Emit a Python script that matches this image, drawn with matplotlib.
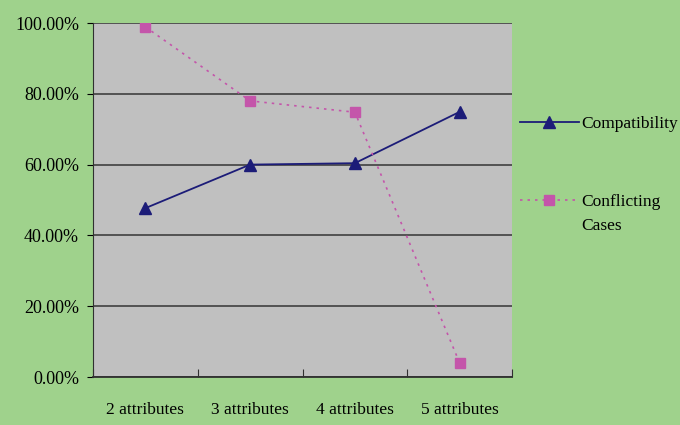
import numpy as np
import matplotlib.pyplot as plt
from matplotlib.ticker import FuncFormatter

categories = ["2 attributes", "3 attributes", "4 attributes", "5 attributes"]
compatibility = [47.7, 60.0, 60.4, 74.9]
conflicting = [98.9, 78.0, 74.8, 4.0]

plt.rcParams['font.family'] = ['Liberation Serif', 'DejaVu Serif']

fig = plt.figure(figsize=(6.8, 4.25), dpi=100, facecolor='#9fd28c')
ax = fig.add_axes([93/680, 48/425, 419/680, 354/425])
ax.set_facecolor('#c0c0c0')

x = np.arange(len(categories))
ax.plot(x, compatibility, color='#1c1c78', lw=1.3, marker='^', ms=8,
        label="Compatibility")
ax.plot(x, conflicting, color='#c455aa', lw=1.2, ls=(0, (1.5, 3)), marker='s',
        ms=7, label="Conflicting")

ax.set_xlim(-0.5, 3.5)
ax.set_ylim(0, 100)
ax.set_yticks(np.arange(0, 101, 20))
ax.yaxis.set_major_formatter(FuncFormatter(lambda v, p: f"{v:.2f}%"))
ax.grid(axis='y', color='#404040', lw=1.2)
ax.set_axisbelow(True)

# category labels sit between the boundary ticks
ax.set_xticks(np.arange(-0.5, 4, 1))
ax.set_xticklabels([])
ax.set_xticks(x, minor=True)
ax.set_xticklabels(categories, minor=True, fontsize=12.5)
ax.tick_params(axis='x', which='major', direction='in', length=6, color='#303030')
ax.tick_params(axis='x', which='minor', length=0, pad=18)
ax.tick_params(axis='y', direction='out', length=4, labelsize=13, pad=6)

for s in ['top', 'right']:
    ax.spines[s].set_visible(False)
ax.spines['left'].set_color('#303030')
ax.spines['bottom'].set_color('#303030')
ax.spines['bottom'].set_linewidth(1.3)

fig.legend(loc='upper left', bbox_to_anchor=(513/680, 1 - 109/425), frameon=False,
           fontsize=12.5, handlelength=3.4, handletextpad=0.15, labelspacing=3.55,
           borderaxespad=0)
fig.text(581/680, 1 - 226/425, "Cases", fontsize=12.5, va='center', ha='left')

fig.savefig("out.png", dpi=100, facecolor=fig.get_facecolor())
